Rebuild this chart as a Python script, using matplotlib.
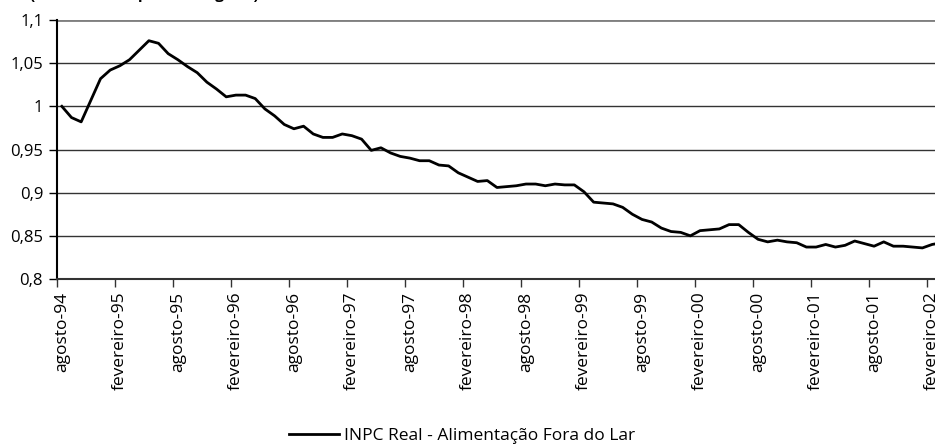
import matplotlib
matplotlib.use("Agg")
import matplotlib.pyplot as plt

plt.rcParams['font.family'] = ['Open Sans', 'DejaVu Sans']

# INPC real - alimentacao fora do lar, mensal a partir de agosto-94
inpc_real = [
    1.000, 0.987, 0.982, 1.007, 1.032, 1.042, 1.047, 1.054, 1.065, 1.076,
    1.073, 1.061, 1.054, 1.046, 1.039, 1.028, 1.020, 1.011, 1.013, 1.013,
    1.009, 0.997, 0.989, 0.979, 0.974, 0.977, 0.968, 0.964, 0.964, 0.968,
    0.966, 0.962, 0.949, 0.952, 0.946, 0.942, 0.940, 0.937, 0.937, 0.932,
    0.931, 0.923, 0.918, 0.913, 0.914, 0.906, 0.907, 0.908, 0.910, 0.910,
    0.908, 0.910, 0.909, 0.909, 0.901, 0.889, 0.888, 0.887, 0.883, 0.875,
    0.869, 0.866, 0.859, 0.855, 0.854, 0.850, 0.856, 0.857, 0.858, 0.863,
    0.863, 0.854, 0.846, 0.843, 0.845, 0.843, 0.842, 0.837, 0.837, 0.840,
    0.837, 0.839, 0.844, 0.841, 0.838, 0.843, 0.838, 0.838, 0.837, 0.836,
    0.840, 0.842,
]
tick_labels = [
    'agosto-94', 'fevereiro-95', 'agosto-95', 'fevereiro-96', 'agosto-96',
    'fevereiro-97', 'agosto-97', 'fevereiro-98', 'agosto-98', 'fevereiro-99',
    'agosto-99', 'fevereiro-00', 'agosto-00', 'fevereiro-01', 'agosto-01',
    'fevereiro-02',
]
y_ticks = [0.8, 0.85, 0.9, 0.95, 1.0, 1.05, 1.1]
y_labels = ['0,8', '0,85', '0,9', '0,95', '1', '1,05', '1,1']

fig = plt.figure(figsize=(9.35, 4.47), dpi=100)
ax = fig.add_axes([57 / 935, 1 - 279 / 447, 1 - 57 / 935, 259 / 447])

months = list(range(len(inpc_real)))
ax.plot(months, inpc_real, color='black', lw=2.0,
        label='INPC Real - Alimentação Fora do Lar')

ax.set_ylim(0.8, 1.1)
ax.set_xlim(-0.5, 90.3)
ax.set_yticks(y_ticks)
ax.set_yticklabels(y_labels, fontsize=12)
for y in y_ticks[1:]:
    ax.axhline(y, color='#333333', lw=1.0, zorder=0)
ax.axhline(1.1, color='#808080', lw=2.0, zorder=0)

# ticks between categories, labels on the category every 6 months
ax.set_xticks([i * 6 - 0.5 for i in range(len(tick_labels))])
ax.set_xticklabels([])
ax.set_xticks([i * 6 for i in range(len(tick_labels))], minor=True)
ax.set_xticklabels(tick_labels, minor=True, rotation=90, fontsize=12.5)
ax.tick_params(axis='x', which='minor', length=0, pad=9)
ax.tick_params(axis='x', which='major', length=6, width=1, direction='out', color='#333333')
ax.tick_params(axis='y', length=6, width=1, direction='out', pad=4)

for s in ['top', 'right']:
    ax.spines[s].set_visible(False)
ax.spines['left'].set_linewidth(1.5)
ax.spines['bottom'].set_linewidth(1.5)
ax.spines['bottom'].set_color('#333333')

# title of the original chart, cropped at the top edge
fig.text(259 / 935, 1 + 1 / 447, '(deflacionado pelo INPC geral)', fontsize=11,
         fontweight='bold', va='baseline', ha='right')

fig.legend(loc='center', bbox_to_anchor=(462 / 935, 1 - 436 / 447), frameon=False,
           fontsize=12.5, handlelength=2.9, handletextpad=0.3)

fig.savefig('out.png', dpi=100)
